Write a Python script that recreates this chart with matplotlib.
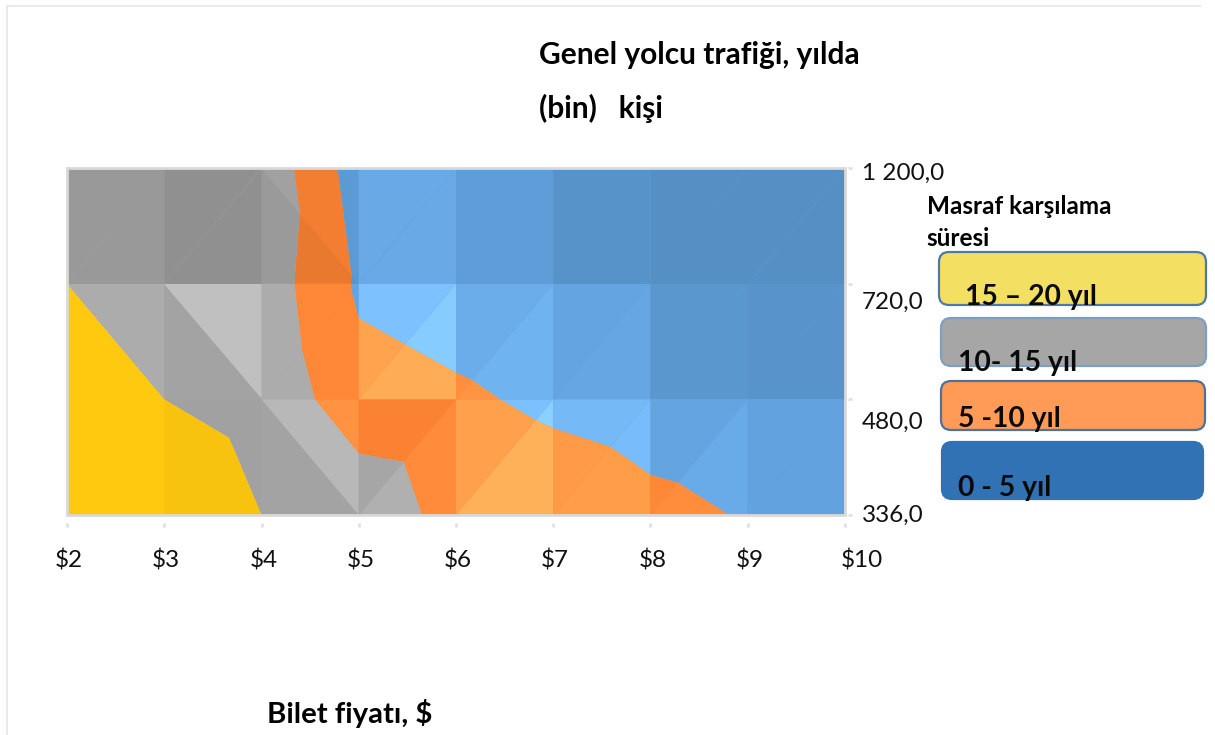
import numpy as np
import matplotlib
matplotlib.use("Agg")
from matplotlib import pyplot as plt
from matplotlib.colors import to_rgb
from matplotlib.lines import Line2D
from matplotlib.patches import FancyBboxPatch, Rectangle
from matplotlib.tri import Triangulation

plt.rcParams['font.family'] = ['Lato', 'DejaVu Sans']

prices = [2, 3, 4, 5, 6, 7, 8, 9, 10]
price_labels = ["$2", "$3", "$4", "$5", "$6", "$7", "$8", "$9", "$10"]
traffic_labels = ["336,0", "480,0", "720,0", "1 200,0"]

# payback time in years, one list per traffic level
payback_336 = [19.5, 16.8, 15.0, 13.8, 7.95, 6.95, 5.72, 4.83, 4.0]
payback_480 = [17.5, 15.0, 14.1, 6.63, 5.54, 4.35, 3.64, 3.15, 2.2]
payback_720 = [15.0, 13.5, 12.9, 4.3, 3.2, 2.3, 1.9, 1.6, 1.3]
payback_1200 = [14.0, 14.0, 13.7, 2.55, 1.9, 1.5, 1.2, 1.0, 0.9]

levels = [0, 5, 10, 15, 20]
band_colors = ['#5F9FDA', '#FB8233', '#A6A6A6', '#FFC90F']

# surface lighting of each cell (lower triangle, upper triangle): <0 darker, >0 lighter
light_336 = [(0, 0), (-.03, -.03), (-.02, .09), (.05, 0), (.27, .17), (.15, .13), (.06, .03), (.02, .02)]
light_480 = [(0, .03), (-.02, .13), (.03, .03), (.24, .18), (.1, .07), (.04, .03), (-.05, -.05), (-.07, -.07)]
light_720 = [(-.08, -.08), (-.13, -.13), (-.07, -.03), (.05, .05), (-.01, -.01), (-.08, -.08), (-.1, -.1), (-.1, -.1)]

# cells (row, col) whose diagonal runs top left to bottom right
falling_cells = [(0, 2), (1, 0), (1, 1), (2, 2)]

legend_title = ["Masraf karşılama", "süresi"]
legend_labels = ["15 – 20 yıl", "10- 15 yıl", "5 -10 yıl", "0 - 5 yıl"]
legend_fills = ['#F3E062', '#A6A6A6', '#FF9B57', '#3072B3']
legend_edges = ['#4A7AA5', '#7F9FC0', '#4F7299', '#3072B3']
legend_boxes = [(939, 252, 267, 53), (941, 318, 265, 48), (941, 381, 264, 49), (942, 442, 261, 57)]
legend_text_pos = [(965, 297), (958, 363), (958, 419), (958, 488)]


def build_triangles(nx, ny):
    tris = []
    for r in range(ny - 1):
        for c in range(nx - 1):
            bl = r * nx + c
            br = bl + 1
            tl = bl + nx
            tr = tl + 1
            if (r, c) in falling_cells:
                tris.append([bl, br, tl])
                tris.append([br, tr, tl])
            else:
                tris.append([bl, br, tr])
                tris.append([bl, tr, tl])
    return np.array(tris)


def lit_color(color, s):
    rgb = np.array(to_rgb(color)) * (1 + s)
    if s > 0:
        rgb = rgb + (1 - rgb) * s * 0.5  # highlights wash out a bit
    return tuple(np.clip(rgb, 0, 1))


W, H = 1215, 735
fig = plt.figure(figsize=(W / 100, H / 100), dpi=100)

# full page layer in pixels for the free text and the legend
page = fig.add_axes([0, 0, 1, 1])
page.set_xlim(0, W)
page.set_ylim(H, 0)
page.axis('off')

ax = fig.add_axes([67 / W, 1 - 515 / H, (845 - 67) / W, (515 - 168) / H])

z = np.array([payback_336, payback_480, payback_720, payback_1200])
light = np.array([light_336, light_480, light_720]).reshape(-1)
ny = z.shape[0]
X, Y = np.meshgrid(prices, range(ny))
triangles = build_triangles(len(prices), ny)
tri = Triangulation(X.ravel(), Y.ravel(), triangles)

# whole surface underneath so the facet seams do not show white
ax.tricontourf(tri, z.ravel(), levels=levels, colors=band_colors, antialiased=True)
for t, s in zip(triangles, light):
    one = Triangulation(X.ravel(), Y.ravel(), [t])
    lit = [lit_color(c, s) for c in band_colors]
    ax.tricontourf(one, z.ravel(), levels=levels, colors=lit, antialiased=True)

ax.set_xlim(prices[0], prices[-1])
ax.set_ylim(0, ny - 1)
for s in ax.spines.values():
    s.set_visible(False)
ax.spines['bottom'].set_position(('outward', 6))
ax.spines['right'].set_position(('outward', 2))
ax.yaxis.tick_right()
ax.set_xticks(prices)
ax.set_yticks(range(ny))
ax.set_xticklabels([])
ax.set_yticklabels([])
ax.tick_params(length=3, width=2, color='#DDE1EA')
ax.add_patch(Rectangle((0, 0), 1, 1, transform=ax.transAxes, fill=False,
                       edgecolor='#D9D9D9', linewidth=2, clip_on=False, zorder=5))

for i, lab in enumerate(price_labels):
    px = 67 + (845 - 67) * i / (len(prices) - 1)
    if lab == "$10":
        px += 15
    page.text(px + 2, 560, lab, fontsize=17.5, ha='center', va='center', color='#111111')

for lab, py in zip(traffic_labels, [515, 422, 302, 173]):
    page.text(862, py, lab, fontsize=17.5, ha='left', va='center', color='#111111')

page.text(539, 55, "Genel yolcu trafiği, yılda", fontsize=21.5, fontweight='bold', va='center')
page.text(539, 108, "(bin)   kişi", fontsize=21.5, fontweight='bold', va='center')
page.text(267, 713, "Bilet fiyatı, $", fontsize=21.2, fontweight='bold', va='center')
page.text(927, 206, legend_title[0], fontsize=17.5, fontweight='bold', va='center')
page.text(926, 238, legend_title[1], fontsize=17.5, fontweight='bold', va='center')

for box, fill, edge in zip(legend_boxes, legend_fills, legend_edges):
    x0, y0, w, h = box
    page.add_patch(FancyBboxPatch((x0 + 10, y0 + 10), w - 20, h - 20,
                                  boxstyle="round,pad=10,rounding_size=10",
                                  facecolor=fill, edgecolor=edge, linewidth=1.6))
for lab, (tx, ty) in zip(legend_labels, legend_text_pos):
    page.text(tx, ty, lab, fontsize=20.3, fontweight='bold', va='center', color='#0A0A0A')

# faint page border, top and left only
fig.add_artist(Line2D([6.5 / W, 6.5 / W, 1200 / W], [0, 1 - 5.5 / H, 1 - 5.5 / H],
                      color='#E8EAF1', linewidth=1.5))

fig.savefig('out.png', dpi=100)
